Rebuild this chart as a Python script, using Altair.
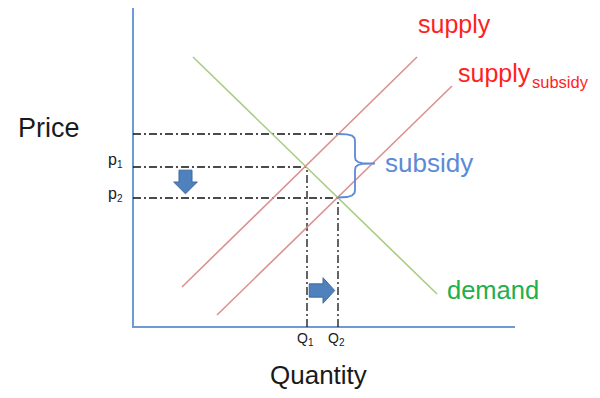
import altair as alt
import pandas as pd

# ---- data (schematic units: quantity along x, price along y) ----
demand_q = [60, 304]
demand_p = [270, 33]
supply_q = [49, 284]
supply_p = [40, 270]
subsidy_q = [84, 319]
subsidy_p = [12, 241]

Q1, Q2 = 174, 205
P1, P2 = 160, 129
P_TOP = 193

axis_q_max = 382
axis_p_max = 319

# brace between P_TOP and P2 (subsidy size)
brace_q = [205, 214, 219, 221.5, 222, 222, 222.6, 225, 229, 242,
           229, 225, 222.6, 222, 222, 221.5, 219, 214, 205]
brace_p = [193, 192.6, 191.4, 189, 186, 170, 167, 165, 163.8, 163.5,
           163.2, 162, 160, 157, 137, 134, 131.5, 130, 129.5]

xs = alt.Scale(domain=[-125, 459], nice=False, zero=False)
ys = alt.Scale(domain=[-63, 319], nice=False, zero=False)
X = alt.X("q:Q", scale=xs, axis=None)
Y = alt.Y("p:Q", scale=ys, axis=None)
FONT = "Liberation Sans"


def line_layer(qs, ps, color, width=1.6):
    df = pd.DataFrame({"q": qs, "p": ps, "i": range(len(qs))})
    return alt.Chart(df).mark_line(color=color, strokeWidth=width).encode(
        x=X, y=Y, order="i:O")


def text_layer(text, q, p, size, color, align="left"):
    df = pd.DataFrame({"q": [q], "p": [p], "t": [text]})
    return alt.Chart(df).mark_text(
        font=FONT, fontSize=size, color=color, align=align, baseline="alphabetic"
    ).encode(x=X, y=Y, text="t:N")


# axes drawn as rules
axes_df = pd.DataFrame({
    "q": [0, 0], "q2": [0, axis_q_max],
    "p": [-1, 0], "p2": [axis_p_max, 0],
})
axes = alt.Chart(axes_df).mark_rule(color="#6e9bd8", strokeWidth=2).encode(
    x=X, x2="q2:Q", y=Y, y2="p2:Q")

# dash-dot guides
guides_df = pd.DataFrame({
    "q": [0, 0, 0, Q1, Q2],
    "q2": [Q2, Q1, Q2, Q1, Q2],
    "p": [P_TOP, P1, P2, 0, 0],
    "p2": [P_TOP, P1, P2, P1, P2],
})
guides = alt.Chart(guides_df).mark_rule(
    color="#111111", strokeWidth=1.3, strokeDash=[8, 3, 2, 3]
).encode(x=X, x2="q2:Q", y=Y, y2="p2:Q")

demand = line_layer(demand_q, demand_p, "#a9cc82")
supply = line_layer(supply_q, supply_p, "#dc918d")
supply_sub = line_layer(subsidy_q, subsidy_p, "#dc918d")
brace = line_layer(brace_q, brace_p, "#5b8ad6", width=1.8)

# block arrows
down_df = pd.DataFrame({"q": [52.5], "p": [145]})
down_arrow = alt.Chart(down_df).mark_point(
    shape="M-0.55,-1L0.55,-1L0.55,0L1,0L0,1L-1,0L-0.55,0Z",
    size=560, filled=True, fill="#4f81bd", stroke="#3d6a9e", strokeWidth=1, opacity=1
).encode(x=X, y=Y)

right_df = pd.DataFrame({"q": [189], "p": [36.5]})
right_arrow = alt.Chart(right_df).mark_point(
    shape="M-1,-0.52L0.08,-0.52L0.08,-1L1,0L0.08,1L0.08,0.52L-1,0.52Z",
    size=650, filled=True, fill="#4f81bd", stroke="#3d6a9e", strokeWidth=1, opacity=1
).encode(x=X, y=Y)

DARK = "#1a1a1a"
texts = [
    text_layer("Price", -115, 190, 27, DARK),
    text_layer("Quantity", 137, -57, 26, DARK),
    text_layer("p", -25, 162, 16, DARK),
    text_layer("1", -16, 159, 10, DARK),
    text_layer("p", -25, 128, 16, DARK),
    text_layer("2", -16, 125, 10, DARK),
    text_layer("Q", 164, -16, 14, DARK),
    text_layer("1", 175, -19, 10, DARK),
    text_layer("Q", 195, -16, 14, DARK),
    text_layer("2", 206, -19, 10, DARK),
    text_layer("supply", 285, 294, 25, "#ff1f1f"),
    text_layer("supply", 325, 245, 25, "#ff1f1f"),
    text_layer("subsidy", 399, 239, 16.5, "#ff1f1f"),
    text_layer("demand", 314, 28, 25.5, "#21b04b"),
    text_layer("subsidy", 252, 155, 26, "#5b8ad6"),
]

chart = alt.layer(
    axes, guides, demand, supply, supply_sub, brace, down_arrow, right_arrow, *texts
).properties(
    width=584, height=382,
    autosize=alt.AutoSizeParams(type="none"),
    padding=0,
).configure_view(stroke=None)

chart.save("out.html", embed_options={"renderer": "svg", "actions": False})
